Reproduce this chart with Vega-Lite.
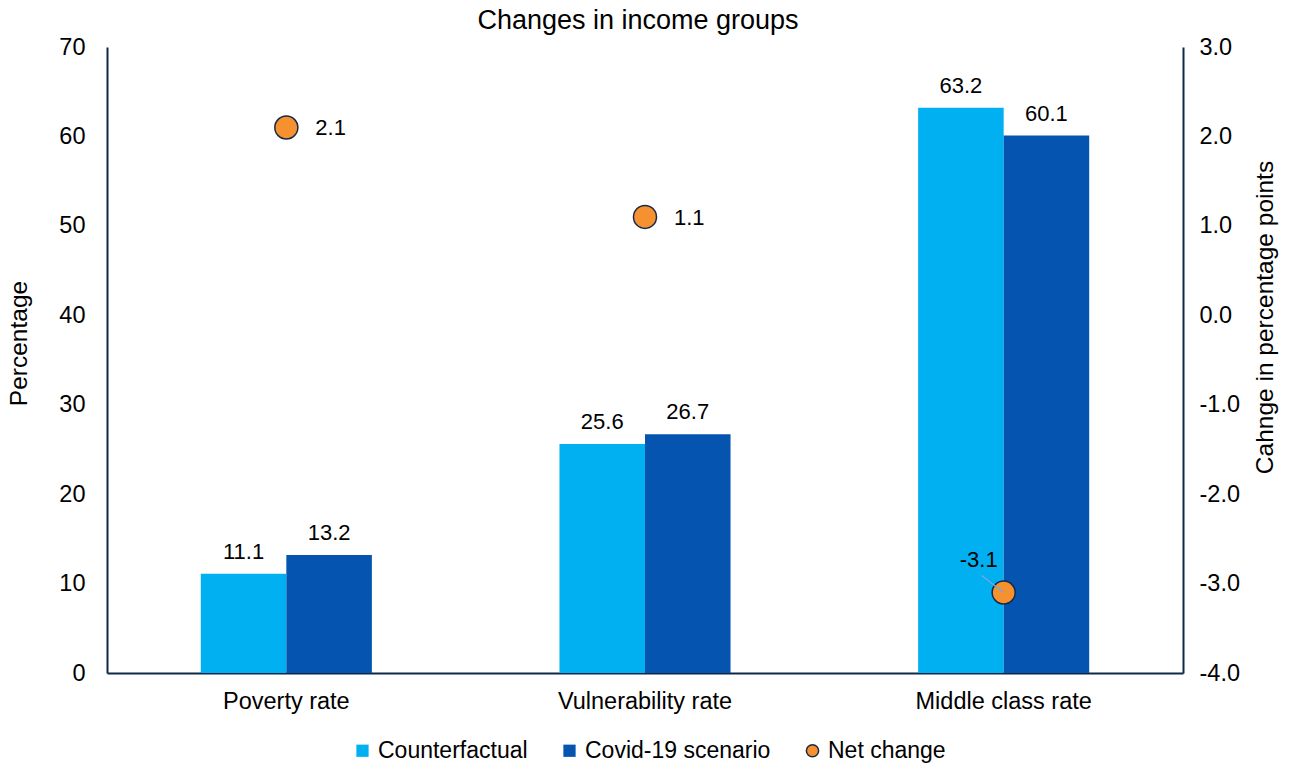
{
  "$schema": "https://vega.github.io/schema/vega-lite/v6.json",
  "width": 1076,
  "height": 626,
  "autosize": {"type": "none"},
  "padding": {"left": 107, "top": 47, "right": 117, "bottom": 91},
  "background": "white",
  "title": {
    "text": "Changes in income groups",
    "font": "Liberation Sans",
    "fontSize": 27,
    "fontWeight": "normal",
    "color": "#000000",
    "anchor": "middle",
    "baseline": "alphabetic",
    "offset": -21,
    "dx": -7
  },
  "config": {
    "view": {"stroke": null},
    "font": "Liberation Sans",
    "locale": {
      "number": {
        "decimal": ".",
        "thousands": ",",
        "grouping": [3],
        "currency": ["$", ""],
        "minus": "-"
      }
    },
    "axis": {
      "grid": false,
      "ticks": false,
      "domainColor": "#0f2846",
      "domainWidth": 2,
      "labelFont": "Liberation Sans",
      "labelFontSize": 23.5,
      "labelColor": "#000000",
      "titleFont": "Liberation Sans",
      "titleFontSize": 24.5,
      "titleFontWeight": "normal",
      "titleColor": "#000000"
    },
    "legend": {
      "labelFont": "Liberation Sans",
      "labelFontSize": 23,
      "labelColor": "#000000",
      "labelLimit": 0
    }
  },
  "datasets": {
    "rates": [
      {"group": "Poverty rate", "series": "Counterfactual", "pct": 11.1},
      {"group": "Poverty rate", "series": "Covid-19 scenario", "pct": 13.2},
      {"group": "Vulnerability rate", "series": "Counterfactual", "pct": 25.6},
      {"group": "Vulnerability rate", "series": "Covid-19 scenario", "pct": 26.7},
      {"group": "Middle class rate", "series": "Counterfactual", "pct": 63.2},
      {"group": "Middle class rate", "series": "Covid-19 scenario", "pct": 60.1}
    ],
    "net": [
      {"group": "Poverty rate", "series": "Net change", "change": 2.1},
      {"group": "Vulnerability rate", "series": "Net change", "change": 1.1},
      {"group": "Middle class rate", "series": "Net change", "change": -3.1}
    ]
  },
  "encoding": {
    "x": {
      "field": "group",
      "type": "nominal",
      "sort": ["Poverty rate", "Vulnerability rate", "Middle class rate"],
      "scale": {"paddingInner": 0.523, "paddingOuter": 0.2615},
      "axis": {"title": null, "labelAngle": 0, "labelPadding": 16}
    }
  },
  "layer": [
    {
      "data": {"name": "rates"},
      "encoding": {
        "xOffset": {"field": "series", "type": "nominal", "sort": ["Counterfactual", "Covid-19 scenario"], "scale": {"paddingInner": 0, "paddingOuter": 0}},
        "y": {
          "field": "pct",
          "type": "quantitative",
          "scale": {"domain": [0, 70], "nice": false},
          "axis": {
            "title": "Percentage",
            "values": [0, 10, 20, 30, 40, 50, 60, 70],
            "labelPadding": 22,
            "titlePadding": 27,
            "titleY": 296
          }
        }
      },
      "layer": [
        {
          "mark": {"type": "bar"},
          "encoding": {
            "color": {
              "field": "series",
              "type": "nominal",
              "scale": {
                "domain": ["Counterfactual", "Covid-19 scenario", "Net change"],
                "range": ["#00b0f0", "#0454b0", "#f5912e"]
              },
              "legend": {
                "title": null,
                "orient": "none",
                "direction": "horizontal",
                "legendX": 244,
                "legendY": 692,
                "symbolSize": 150,
                "symbolStrokeWidth": 1.5,
                "labelOffset": 4,
                "columnPadding": 30,
                "labelBaseline": "middle",
                "encode": {
                  "symbols": {
                    "update": {
                      "shape": {"signal": "datum.value === 'Net change' ? 'circle' : 'square'"},
                      "stroke": {"signal": "datum.value === 'Net change' ? '#16294a' : 'transparent'"}
                    }
                  }
                }
              }
            }
          }
        },
        {
          "mark": {"type": "text", "baseline": "alphabetic", "dy": -15, "fontSize": 22, "color": "#000000"},
          "encoding": {
            "text": {"field": "pct", "type": "quantitative", "format": ".1f"}
          }
        }
      ]
    },
    {
      "data": {"name": "net"},
      "encoding": {
        "y": {
          "field": "change",
          "type": "quantitative",
          "scale": {"domain": [-4, 3], "nice": false, "zero": false},
          "axis": {
            "orient": "right",
            "title": "Cahnge in percentage points",
            "format": ".1f",
            "values": [-4, -3, -2, -1, 0, 1, 2, 3],
            "labelPadding": 16,
            "titlePadding": 14,
            "titleAngle": -90,
            "titleBaseline": "top",
            "titleY": 270
          }
        }
      },
      "layer": [
        {
          "mark": {"type": "circle", "size": 530, "opacity": 1, "stroke": "#16294a", "strokeWidth": 1.5},
          "encoding": {
            "color": {"field": "series", "type": "nominal"}
          }
        },
        {
          "transform": [{"filter": "datum.change < 0"}],
          "mark": {"type": "rule", "x2Offset": -22, "y2Offset": -17, "color": "#6fa8e0", "strokeWidth": 1.5},
          "encoding": {
            "x2": {"field": "group"},
            "y2": {"field": "change"}
          }
        },
        {
          "transform": [{"filter": "datum.change >= 0"}],
          "mark": {"type": "text", "align": "left", "baseline": "middle", "dx": 29, "dy": 1, "fontSize": 22, "color": "#000000"},
          "encoding": {
            "text": {"field": "change", "type": "quantitative", "format": ".1f"}
          }
        },
        {
          "transform": [{"filter": "datum.change < 0"}],
          "mark": {"type": "text", "align": "center", "baseline": "middle", "dx": -25, "dy": -33, "fontSize": 22, "color": "#000000"},
          "encoding": {
            "text": {"field": "change", "type": "quantitative", "format": ".1f"}
          }
        }
      ]
    }
  ],
  "resolve": {"scale": {"y": "independent"}}
}
